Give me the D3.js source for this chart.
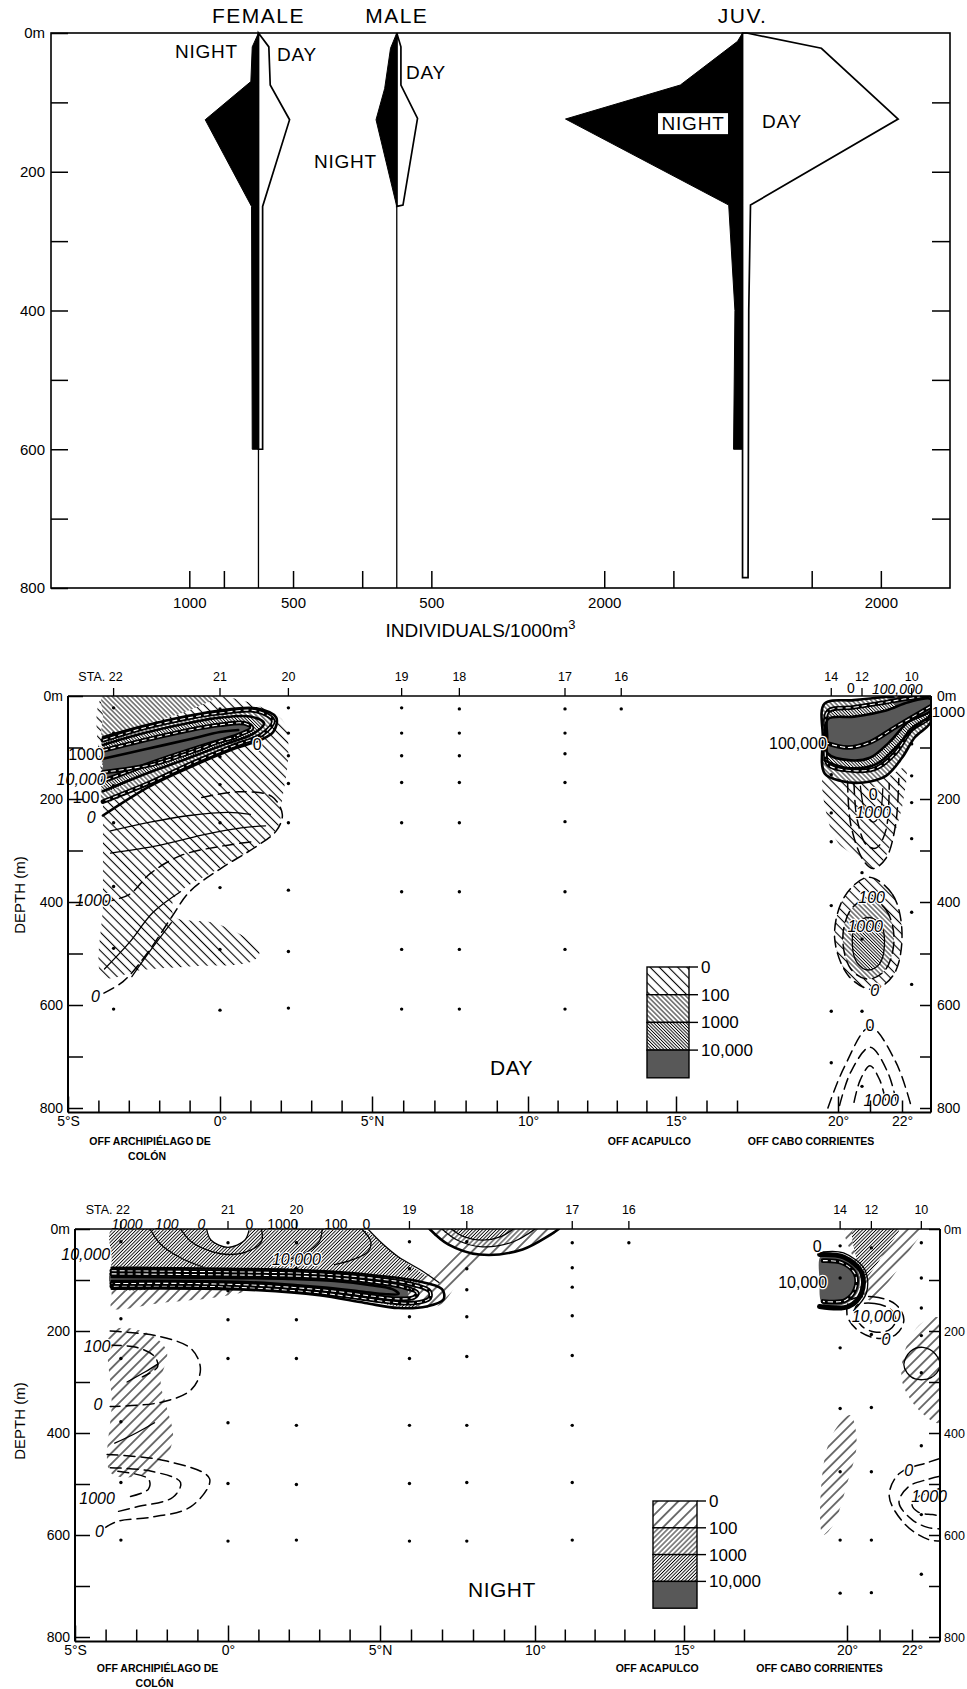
<!DOCTYPE html>
<html><head><meta charset="utf-8">
<script src="https://cdn.jsdelivr.net/npm/d3@7"></script>
<style>
body{margin:0;background:#fff}
svg{display:block}
text{font-family:'Liberation Sans',Arial,sans-serif;fill:#000}
</style>
</head><body>
<svg id="c" width="967" height="1689"></svg>
<script>
// ================= DATA =================
// --- top panel: vertical distribution (depth m, individuals/1000 m3) ---
const kiteGroups  = ["FEMALE", "MALE", "JUV."];
const kiteCenters = [3000, 5000, 10000];           // baseline of each kite on the individuals axis
const femaleNight = [[0,0],[20,90],[70,110],[125,770],[250,100],[600,90]];
const femaleDay   = [[0,0],[20,150],[75,170],[125,450],[250,60],[600,60]];
const maleNight   = [[0,0],[22,90],[80,175],[125,300],[250,0]];
const maleDay     = [[0,0],[20,60],[75,60],[123,300],[248,90],[250,0]];
const juvNight    = [[0,0],[12,72],[75,900],[124,2560],[248,200],[400,110],[600,130]];
const juvDay      = [[0,60],[22,1140],[124,2250],[248,115],[400,90],[785,80]];
const kiteNight = [femaleNight, maleNight, juvNight];
const kiteDay   = [femaleDay, maleDay, juvDay];
const kiteStemBottom = [800, 800, null];
const topDepthTicks = [0,100,200,300,400,500,600,700,800];
const topXTickValues = [2000,2500,3500,4500,5500,8000,9000,11000,12000];
const topXTickLabels = ["1000","","500","","500","2000","","","2000"];

// --- sections ---
const latBreaks = [-5,0,5,10,15,17,20,22,22.9];
const latTicks = [-5,-4,-3,-2,-1,0,1,2,3,4,5,6,7,8,9,10,11,12,13,14,15,16,17,20,21,22];
const latTickLabels = {"-5":"5°S","0":"0°","5":"5°N","10":"10°","15":"15°","20":"20°","22":"22°"};
const depthTicks = [0,100,200,300,400,500,600,700,800];
const stationNames = ["22","21","20","19","18","17","16","14","12","10"];
const stationLat   = [-3.5,0.0,2.25,5.95,7.8,11.25,13.15,19.8,20.75,22.3];
const dayStationDepths = [
  [23,72,174,246,370,490,608],[25,118,172,246,372,492,610],[23,72,116,170,246,377,496,606],
  [23,72,116,168,246,380,492,608],[25,72,116,168,246,380,492,608],[25,72,112,168,244,380,492,608],
  [25],[153,227,283,407,612,712],[343,472,612,758],[93,155,207,277,420,560]];
const nightStationDepths = [
  [25,176,254,378,497,610],[27,121,178,254,380,499,612],[27,78,119,178,254,385,501,610],
  [25,78,119,172,254,385,499,612],[25,78,119,172,250,385,497,612],[27,76,114,170,248,385,497,610],
  [27],[33,96,233,352,476,610,714],[37,207,350,476,610,713],[27,96,155,209,282,425,560,677]];
const legendLevels = ["0","100","1000","10,000"];
const placeNames = [{t:"OFF ARCHIPIÉLAGO DE", lat:-2.3, row:0},{t:"COLÓN", lat:-2.4, row:1},
                    {t:"OFF ACAPULCO", lat:14.1, row:0},{t:"OFF CABO CORRIENTES", lat:19.2, row:0}];

// day contours (lat, depth)
const dayTongue1 = [[-3.85,86],[-2.5,62],[-1,42],[0,33],[1.2,29],[1.75,48],[1.4,74],[0.4,98],[-0.9,130],[-2.3,168],[-3.85,205]];
const dayTongue2 = [[-3.85,95],[-2.5,72],[-1,52],[0,42],[1.0,40],[1.45,53],[1.1,73],[0.2,93],[-1.0,120],[-2.4,150],[-3.85,185]];
const dayTongue3 = [[-3.85,106],[-2.5,86],[-1,66],[0,56],[0.8,53],[1.05,62],[0.6,76],[-0.5,96],[-2,125],[-3.85,165]];
const dayBlob1 = [[19.6,15],[20.5,8],[21.5,2],[22.2,0],[22.9,0],[22.9,50],[22.4,80],[22.0,120],[21.5,155],[20.8,168],[20.1,165],[19.6,150],[19.55,80]];
const dayBlob2 = [[19.7,30],[20.5,22],[21.5,12],[22.2,5],[22.9,3],[22.9,38],[22.3,65],[21.8,110],[21.2,140],[20.5,145],[19.7,132],[19.65,80]];
const dayBlob3 = [[19.7,45],[20.5,40],[21.5,28],[22.2,12],[22.9,6],[22.9,28],[22.2,50],[21.6,90],[21.0,120],[20.4,125],[19.7,112],[19.65,80]];
const dayEll0 = [[20.95,352],[21.7,385],[22.0,460],[21.75,540],[21.1,570],[20.35,545],[19.9,470],[20.2,390]];
const dayEll1 = [[20.95,392],[21.5,415],[21.75,470],[21.5,530],[20.95,550],[20.4,530],[20.15,470],[20.4,415]];
const dayEll2 = [[20.95,430],[21.35,445],[21.45,485],[21.3,520],[20.95,532],[20.6,518],[20.45,485],[20.55,445]];
const dayRegions = [
  {lvl:0, pts:[[-3.85,0],[-2,0],[0,0],[1.2,18],[2.1,50],[2.25,110],[2.05,200],[1.9,255],[1.3,288],[-0.1,337],[-1.5,392],[-1.5,428],[-0.1,442],[1.3,492],[1.1,514],[-1.0,525],[-2.6,532],[-3.85,545],[-3.85,400],[-3.85,200]]},
  {lvl:1, pts:[[-3.85,0],[-2,0],[-0.1,0],[-0.9,25],[-2.3,52],[-3.85,82],[-3.85,40]]},
  {lvl:1, pts:dayTongue1.concat([[-3.85,150]])},
  {lvl:2, pts:dayTongue2.concat([[-3.85,140]])},
  {lvl:3, pts:dayTongue3.concat([[-3.85,135]])},
  {lvl:0, pts:[[19.6,150],[20.4,165],[21.5,158],[22.1,140],[22.05,200],[21.8,260],[21.4,320],[21.0,338],[20.5,310],[20.0,285],[19.7,240]]},
  {lvl:1, pts:dayBlob1},{lvl:2, pts:dayBlob2},{lvl:3, pts:dayBlob3},
  {lvl:3, pts:[[21.6,4],[22.2,2],[22.9,1],[22.9,22],[22.2,30],[21.8,18]]},
  {lvl:0, pts:dayEll0},{lvl:1, pts:dayEll1},{lvl:2, pts:dayEll2}
];
const dayLines = [
  {k:'thick', pts:[[-3.85,80],[-2.5,58],[-1,38],[0,28],[1.2,24],[1.85,42],[1.75,70],[1.3,86],[0.4,104],[-0.9,136],[-2.3,175],[-3.85,232]]},
  {k:'band', pts:dayTongue1},{k:'thick', pts:dayTongue2},{k:'band', pts:dayTongue3},
  {k:'thick', pts:[[-3.85,122],[-2.5,104],[-1,84],[0,70],[0.6,66]]},
  {k:'band', pts:[[-3.85,148],[-2.3,134],[-1,110],[0,88],[0.5,80]]},
  {k:'dash', pts:[[-0.6,197],[0.6,186],[1.7,195],[2.05,230],[1.85,262],[1.2,292],[0,336],[-1.0,380],[-1.6,430],[-2.4,500],[-3.2,555],[-4.0,582]]},
  {k:'thin', pts:[[-3.6,262],[-2.3,245],[-1.0,232],[0.3,226],[1.0,230]]},
  {k:'thin', pts:[[-3.6,305],[-2.0,290],[-0.6,270],[0.7,256],[1.5,252]]},
  {k:'dash', pts:[[-3.85,400],[-3.0,386],[-2.3,345],[-1.3,310],[0,292],[1.2,282]]},
  {k:'thin', pts:[[-3.8,530],[-3.0,480],[-2.2,420],[-1.3,380]]},
  {k:'thin', pts:[[-2.9,545],[-2.3,495],[-1.6,440]]},
  {k:'thick', pts:dayBlob1, c:true},{k:'band', pts:dayBlob2, c:true},{k:'thick', pts:dayBlob3, c:true},
  {k:'thick', pts:[[19.6,125],[20.3,140],[21.2,132],[21.8,100],[22.4,60],[22.9,40]]},
  {k:'band', pts:[[19.6,90],[20.3,100],[21.0,90],[21.8,60],[22.9,20]]},
  {k:'dash', pts:[[20.3,165],[20.4,250],[20.8,320],[21.1,335],[21.5,315],[21.8,250],[21.9,160]]},
  {k:'dash', pts:[[20.5,170],[20.6,240],[20.9,290],[21.2,295],[21.5,260],[21.6,170]]},
  {k:'thin', pts:[[20.7,175],[20.85,225],[21.1,245],[21.3,230],[21.4,180]]},
  {k:'dash', pts:dayEll0, c:true},{k:'dash', pts:dayEll1, c:true},{k:'thin', pts:dayEll2, c:true},
  {k:'dash', pts:[[19.7,800],[20.2,720],[21.0,643],[21.8,710],[22.3,800]]},
  {k:'dash', pts:[[20.05,795],[20.4,730],[21.0,682],[21.55,730],[21.85,795]]},
  {k:'dash', pts:[[20.5,789],[20.7,745],[21.0,718],[21.3,745],[21.5,789]]}
];
const dayLabels = [
  {t:"1000",lat:-4.41,d:124},{t:"10,000",lat:-4.57,d:172,i:1},{t:"100",lat:-4.41,d:207},{t:"0",lat:-4.24,d:246,i:1},
  {t:"1000",lat:-4.18,d:407,i:1},{t:"0",lat:-4.1,d:595,i:1},{t:"0",lat:1.22,d:105},
  {t:"0",lat:20.4,d:-5,s:14},{t:"100,000",lat:21.85,d:-4,i:1,s:14},{t:"1000",lat:22.92,d:41,a:'start',s:15},
  {t:"100,000",lat:19.67,d:103,a:'end'},{t:"0",lat:21.1,d:201},{t:"1000",lat:21.1,d:236,i:1},
  {t:"100",lat:21.05,d:401,i:1},{t:"1000",lat:20.85,d:459,i:1},{t:"0",lat:21.15,d:583,i:1},
  {t:"0",lat:21.0,d:651},{t:"1000",lat:21.35,d:796,i:1}
];

// night contours
const nightT0 = [[-3.8,76],[0,78],[2,80],[3.5,84],[5,92],[6.2,102],[7.0,118],[7.05,138],[6.5,152],[5.6,155],[4.5,145],[3,130],[1,120],[-1,117],[-3.8,117]];
const nightT1 = [[-3.8,82],[0,84],[2,86],[3.5,90],[5,98],[6,108],[6.6,122],[6.6,136],[6.1,145],[5.3,143],[4.3,135],[3,125],[1,116],[-1,112],[-3.8,112]];
const nightT2 = [[-3.8,88],[0,90],[2,92],[3.5,96],[4.8,104],[5.7,113],[6.2,125],[6.1,134],[5.6,137],[4.8,132],[3.5,122],[1.5,112],[-1,107],[-3.8,107]];
const nightT3 = [[-3.8,94],[0,96],[2,98],[3.5,102],[4.7,110],[5.4,118],[5.6,127],[5.2,128],[4.3,122],[3,114],[1,105],[-1,102],[-3.8,102]];
const nightHole = [[-0.7,0],[-0.55,22],[0,36],[0.55,22],[0.7,0]];
const nightS0 = [[6.6,0],[7.2,30],[8.2,50],[9.6,40],[10.8,0]];
const nightS1 = [[7.0,0],[7.5,22],[8.3,35],[9.3,25],[10.0,0]];
const nightS2 = [[7.3,0],[7.7,15],[8.3,22],[8.9,15],[9.3,0]];
const nightEllA = [[20.1,140],[20.8,133],[21.5,148],[21.75,178],[21.5,207],[20.9,214],[20.3,197],[20.0,168]];
const nightEllB = [[20.3,150],[20.85,146],[21.35,158],[21.5,180],[21.3,198],[20.85,202],[20.45,190],[20.25,168]];
const nightBlob10 = [[21.75,265],[21.95,240],[22.35,232],[22.75,245],[22.9,270],[22.6,292],[22.1,294],[21.85,282]];
const nightRegions = [
  {lvl:0, pts:[[-3.8,105],[-1.5,112],[0.8,118],[-0.5,135],[-2.2,145],[-3.8,155],[-3.8,130]]},
  {lvl:2, pts:[[-3.8,0],[-2,0],[0,0],[2,0],[4.4,0],[5.0,25],[5.6,55],[6.2,80],[6.8,105],[7.0,125],[6.7,145],[5.8,153],[4.6,140],[3.0,125],[1.0,115],[-1,112],[-3.8,112],[-3.8,60]]},
  {lvl:3, pts:nightT1},
  {lvl:-1, pts:nightHole},
  {lvl:0, pts:nightS0.concat([[8.7,0]])},
  {lvl:0, pts:[[6.2,150],[5.9,125],[7.0,70],[7.7,30],[8.4,0],[9.3,0],[8.6,40],[7.7,90],[6.9,150]]},
  {lvl:1, pts:nightS1.concat([[8.5,0]])},
  {lvl:2, pts:nightS2.concat([[8.3,0]])},
  {lvl:0, pts:[[-3.8,200],[-2.6,205],[-2.0,240],[-2.2,300],[-2.0,350],[-1.8,410],[-2.3,470],[-3.8,480],[-3.8,340]]},
  {lvl:0, pts:[[19.95,0],[21,0],[22.3,0],[21.9,45],[21.2,110],[20.7,140],[20.35,110],[20.2,60]]},
  {lvl:2, pts:[[20.2,0],[21.0,0],[21.6,0],[21.2,40],[20.8,80],[20.5,100],[20.3,60]]},
  {lvl:3, pts:[[19.25,52],[19.9,58],[20.35,85],[20.35,120],[20.0,145],[19.3,148],[19.2,100]]},
  {lvl:0, pts:[[22.3,185],[22.9,175],[22.9,380],[22.3,360],[21.7,300],[21.8,235]]},
  {lvl:0, pts:[[19.3,600],[19.3,470],[19.6,400],[20.1,365],[20.3,420],[20.0,500],[19.6,580]]}
];
const nightLines = [
  {k:'thick', pts:nightT0},{k:'band', pts:nightT1},{k:'band', pts:nightT2},{k:'thick', pts:nightT3},
  {k:'thin', pts:nightHole},
  {k:'thin', pts:[[-2.55,0],[-2.2,30],[-1.6,55],[-0.8,75]]},
  {k:'thin', pts:[[-1.55,0],[-1.2,25],[-0.5,45],[0,50],[0.6,45],[1.1,25],[1.1,0]]},
  {k:'thin', pts:[[3.1,0],[3.0,25],[2.6,45],[2.0,60]]},
  {k:'thin', pts:[[4.4,0],[4.7,25],[4.6,45],[4.1,60],[3.5,70]]},
  {k:'thin', pts:[[4.6,0],[5.1,30],[5.6,55],[6.3,80],[6.9,105]]},
  {k:'thick', pts:nightS0},{k:'thin', pts:nightS1},{k:'thin', pts:nightS2},
  {k:'dash', pts:[[-3.85,200],[-2.3,210],[-1.2,235],[-0.9,275],[-1.2,315],[-2.2,340],[-3.85,348]]},
  {k:'dash', pts:[[-3.85,228],[-3.0,232],[-2.4,250],[-2.3,270],[-2.8,290]]},
  {k:'dash', pts:[[-3.95,442],[-2.0,455],[-0.6,490],[-1.2,544],[-2.5,565],[-3.6,573],[-4.0,585]]},
  {k:'dash', pts:[[-3.85,468],[-2.5,475],[-1.55,497],[-1.8,526],[-3.0,545],[-3.6,554]]},
  {k:'dash', pts:[[-3.6,475],[-2.6,490],[-2.6,510],[-3.3,526]]},
  {k:'thin', pts:[[-3.7,420],[-3.0,400],[-2.4,380]]},
  {k:'thin', pts:[[-3.3,300],[-2.7,280],[-2.3,265]]},
  {k:'thick', pts:[[19.2,50],[19.9,55],[20.45,85],[20.45,125],[20.05,152],[19.2,152]], w:5},
  {k:'band', pts:[[19.3,62],[19.85,66],[20.25,88],[20.25,118],[19.95,140],[19.3,142]]},
  {k:'thin', pts:[[19.3,45],[19.9,47],[20.55,80],[20.6,125],[20.2,160]]},
  {k:'dash', pts:nightEllA, c:true},{k:'dash', pts:nightEllB, c:true},
  {k:'thin', pts:nightBlob10, c:true},
  {k:'dash', pts:[[22.9,450],[22.5,458],[21.6,480],[21.3,524],[21.8,580],[22.5,608],[22.9,612]]},
  {k:'dash', pts:[[22.9,485],[22.5,491],[21.9,505],[21.6,536],[22.0,570],[22.5,585],[22.9,588]]},
  {k:'dash', pts:[[22.9,508],[22.65,515],[22.2,525],[22.0,540],[22.2,555],[22.65,560],[22.9,562]]}
];
const nightLabels = [
  {t:"1000",lat:-3.3,d:0,i:1,s:14},{t:"100",lat:-2.0,d:0,i:1,s:14},{t:"0",lat:-0.87,d:0,i:1,s:14},{t:"0",lat:0.7,d:0,s:14},
  {t:"1000",lat:1.8,d:0,s:14},{t:"100",lat:3.55,d:0,s:14},{t:"0",lat:4.55,d:0,s:14},
  {t:"10,000",lat:-3.85,d:61,a:'end',i:1},{t:"10,000",lat:2.25,d:70,i:1},
  {t:"100",lat:-4.28,d:241,i:1},{t:"0",lat:-4.25,d:354,i:1},{t:"1000",lat:-4.28,d:540,i:1},{t:"0",lat:-4.2,d:603,i:1},
  {t:"0",lat:19.13,d:45},{t:"10,000",lat:19.42,d:115,a:'end'},{t:"10,000",lat:20.9,d:182,i:1},
  {t:"0",lat:21.2,d:227,i:1},{t:"0",lat:21.9,d:485,i:1},{t:"1000",lat:21.98,d:536,i:1,a:'start'}
];

// ================= DRAW =================
const svg = d3.select('#c');
const defs = svg.append('defs');

// ---------- TOP PANEL ----------
const xTop = d3.scaleLinear().domain([0,13000]).range([51,950]);
const yTop = d3.scaleLinear().domain([0,800]).range([33,588]);
const gTop = svg.append('g');
const lineTop = d3.line().x(p=>xTop(p[0])).y(p=>yTop(p[1]));

kiteCenters.forEach((c,i)=>{
  const day = kiteDay[i], night = kiteNight[i];
  const dLast = day[day.length-1][0], nLast = night[night.length-1][0];
  const dayPts = [[c,0]].concat(day.map(p=>[c+p[1],p[0]]),[[c,dLast]]);
  const nightPts = [[c,0]].concat(night.map(p=>[c-p[1],p[0]]),[[c,nLast]]);
  gTop.append('path').attr('d',lineTop(dayPts)+'Z').attr('fill','#fff').attr('stroke','#000').attr('stroke-width',1.7).attr('stroke-linejoin','miter');
  gTop.append('path').attr('d',lineTop(nightPts)+'Z').attr('fill','#000').attr('stroke','#000').attr('stroke-width',1);
  if (kiteStemBottom[i] !== null) {
    gTop.append('line').attr('x1',xTop(c)).attr('x2',xTop(c)).attr('y1',yTop(0)).attr('y2',yTop(kiteStemBottom[i])).attr('stroke','#000').attr('stroke-width',1.3);
  }
  gTop.append('text').attr('x',xTop(c)).attr('y',23).attr('text-anchor','middle').style('font-size','21px').style('letter-spacing','1.5px').text(kiteGroups[i]);
});

// night/day annotations (placed in data units)
const kiteNotes = [
  {t:"NIGHT",v:2704,d:36,a:'end'},{t:"DAY",v:3268,d:40,a:'start'},
  {t:"DAY",v:5134,d:66,a:'start'},{t:"NIGHT",v:4714,d:195,a:'end'},
  {t:"NIGHT",v:9284,d:140,a:'middle',box:1},{t:"DAY",v:10281,d:137,a:'start'}];
kiteNotes.forEach(n=>{
  if (n.box) gTop.append('rect').attr('x',xTop(n.v)-35).attr('y',yTop(n.d)-17).attr('width',70).attr('height',21).attr('fill','#fff');
  gTop.append('text').attr('x',xTop(n.v)).attr('y',yTop(n.d)).attr('text-anchor',n.a).style('font-size','19px').style('letter-spacing','0.8px').text(n.t);
});

// frame & axes
gTop.append('rect').attr('x',xTop.range()[0]).attr('y',yTop.range()[0]).attr('width',xTop.range()[1]-xTop.range()[0]).attr('height',yTop.range()[1]-yTop.range()[0]).attr('fill','none').attr('stroke','#000').attr('stroke-width',1.6);
const styleAxis = (g,fs) => {
  g.select('.domain').remove();
  g.selectAll('line').attr('stroke','#000').attr('stroke-width',1.5);
  g.selectAll('text').style('font-size',fs).style('font-family','Liberation Sans, Arial, sans-serif').attr('fill','#000');
  g.selectAll('text').filter(function(){ return this.textContent === ''; }).remove();
};
gTop.append('g').attr('transform',`translate(0,${yTop(800)})`)
  .call(d3.axisBottom(xTop).tickValues(topXTickValues).tickSize(-17).tickPadding(9).tickFormat((d,i)=>topXTickLabels[i]))
  .call(g=>styleAxis(g,'15px'));
gTop.append('g').attr('transform',`translate(${xTop.range()[0]},0)`)
  .call(d3.axisLeft(yTop).tickValues(topDepthTicks).tickSize(-17).tickPadding(6).tickFormat(d=>d===0?'0m':(d%200===0?d:'')))
  .call(g=>styleAxis(g,'15px'));
gTop.append('g').attr('transform',`translate(${xTop.range()[1]},0)`)
  .call(d3.axisRight(yTop).tickValues(topDepthTicks.slice(1,-1)).tickSize(-18).tickFormat(''))
  .call(g=>styleAxis(g,'15px'));
const xt = gTop.append('text').attr('x',(375+598)/2-6).attr('y',637).attr('text-anchor','middle').style('font-size','19px');
xt.append('tspan').text('INDIVIDUALS/1000m');
xt.append('tspan').attr('dy',-8).style('font-size','13px').text('3');

// ---------- SECTIONS ----------
function makePattern(id, sp, sw, angle, bg){
  const p = defs.append('pattern').attr('id',id).attr('patternUnits','userSpaceOnUse')
    .attr('width',sp).attr('height',sp).attr('patternTransform',`rotate(${angle})`);
  p.append('rect').attr('width',sp).attr('height',sp).attr('fill',bg);
  p.append('line').attr('x1',sp/2).attr('x2',sp/2).attr('y1',0).attr('y2',sp).attr('stroke','#000').attr('stroke-width',sw);
}

function section(o){
  const x = d3.scaleLinear().domain(latBreaks).range(o.xr);
  const y = d3.scaleLinear().domain([0,800]).range(o.yr);
  const L = o.xr[0], R = o.xr[o.xr.length-1], T = y(0), B = y(800)+4.5;
  o.hatch.forEach((h,i)=>makePattern(o.id+'P'+i, h.sp, h.sw, o.angle, h.bg));
  defs.append('clipPath').attr('id',o.id+'clip').append('rect').attr('x',L).attr('y',T).attr('width',R-L).attr('height',B-T);
  const g = svg.append('g');
  const gc = g.append('g').attr('clip-path',`url(#${o.id}clip)`);
  const open = d3.line().x(p=>x(p[0])).y(p=>y(p[1])).curve(d3.curveCatmullRom.alpha(0.5));
  const closed = d3.line().x(p=>x(p[0])).y(p=>y(p[1])).curve(d3.curveCatmullRomClosed.alpha(0.5));
  o.regions.forEach(r=>{
    gc.append('path').attr('d',closed(r.pts)).attr('fill', r.lvl<0 ? '#fff' : `url(#${o.id}P${r.lvl})`);
  });
  o.lines.forEach(l=>{
    const d = (l.c?closed:open)(l.pts);
    const p = gc.append('path').attr('d',d).attr('fill','none').attr('stroke','#000').attr('stroke-linecap','round');
    if (l.k==='thick') p.attr('stroke-width',l.w||2.6);
    else if (l.k==='thin') p.attr('stroke-width',1.3);
    else if (l.k==='dash') p.attr('stroke-width',1.5).attr('stroke-dasharray','11,6');
    else if (l.k==='band') {
      p.attr('stroke-width',4.6);
      gc.append('path').attr('d',d).attr('fill','none').attr('stroke','#fff').attr('stroke-width',1.1).attr('stroke-dasharray','5,3');
    }
  });
  // sample dots
  stationLat.forEach((lat,i)=>{
    o.depths[i].forEach(dep=>{
      g.append('circle').attr('cx',x(lat)).attr('cy',y(dep)).attr('r',1.7).attr('fill','#000');
    });
  });
  // contour labels
  o.labels.forEach(lb=>{
    g.append('text').attr('x',x(lb.lat)).attr('y',y(lb.d)).attr('text-anchor',lb.a||'middle')
      .style('font-size',(lb.s||16)+'px').style('font-style',lb.i?'italic':'normal')
      .attr('stroke','#fff').attr('stroke-width',2.5).attr('paint-order','stroke').attr('stroke-linejoin','round')
      .text(lb.t);
  });
  // frame
  g.append('line').attr('x1',L).attr('x2',R).attr('y1',T).attr('y2',T).attr('stroke','#000').attr('stroke-width',1.7);
  g.append('line').attr('x1',L).attr('x2',R).attr('y1',B).attr('y2',B).attr('stroke','#000').attr('stroke-width',2);
  g.append('line').attr('x1',L).attr('x2',L).attr('y1',T).attr('y2',B).attr('stroke','#000').attr('stroke-width',2);
  g.append('line').attr('x1',R).attr('x2',R).attr('y1',T).attr('y2',B).attr('stroke','#000').attr('stroke-width',2);
  // depth axes
  g.append('g').attr('transform',`translate(${L},0)`)
    .call(d3.axisLeft(y).tickValues(depthTicks).tickSize(-15).tickPadding(5).tickFormat(d=>d===0?'0m':(d%200===0?d:'')))
    .call(a=>styleAxis(a,'14px'));
  g.append('g').attr('transform',`translate(${R},0)`)
    .call(d3.axisRight(y).tickValues(depthTicks).tickSize(-11).tickPadding(o.rightPad).tickFormat(d=>d===0?'0m':(d%200===0?d:'')))
    .call(a=>styleAxis(a,o.rightFs));
  // latitude axis
  g.append('g').attr('transform',`translate(0,${B})`)
    .call(d3.axisBottom(x).tickValues(latTicks).tickSize(-12).tickPadding(6).tickFormat(d=>latTickLabels[String(d)]||''))
    .call(a=>{ styleAxis(a,'14px'); a.selectAll('.tick line').attr('y2',d=>d%5===0?-16:-12); a.selectAll('.tick text').attr('y',4); });
  placeNames.forEach(pn=>{
    g.append('text').attr('x',x(pn.lat)).attr('y',B+o.placeDy+pn.row*15).attr('text-anchor','middle')
      .style('font-size','10.5px').style('font-weight','bold').text(pn.t);
  });
  // stations
  stationLat.forEach((lat,i)=>{
    g.append('line').attr('x1',x(lat)).attr('x2',x(lat)).attr('y1',T-8).attr('y2',T).attr('stroke','#000').attr('stroke-width',1.3);
    g.append('text').attr('x',i===0?x(lat)+9:x(lat)).attr('y',T-15).attr('text-anchor',i===0?'end':'middle')
      .style('font-size','12.5px').text(i===0?'STA. '+stationNames[i]:stationNames[i]);
  });
  // y title
  g.append('text').attr('transform',`translate(25,${o.titleY}) rotate(-90)`).attr('text-anchor','middle')
    .style('font-size','15px').text('DEPTH (m)');
  // legend
  const lg = o.legend;
  legendLevels.forEach((lv,i)=>{
    g.append('rect').attr('x',lg.x).attr('y',lg.y+i*lg.h).attr('width',lg.w).attr('height',lg.h)
      .attr('fill',`url(#${o.id}P${i})`).attr('stroke','#000').attr('stroke-width',1.4);
    g.append('line').attr('x1',lg.x+lg.w).attr('x2',lg.x+lg.w+9).attr('y1',lg.y+i*lg.h).attr('y2',lg.y+i*lg.h).attr('stroke','#000').attr('stroke-width',1.4);
    g.append('text').attr('x',lg.x+lg.w+12).attr('y',lg.y+i*lg.h+6).style('font-size','17px').text(lv);
  });
  g.append('text').attr('x',o.name.x).attr('y',o.name.y).style('font-size','21px').style('letter-spacing','0.5px').text(o.name.t);
}

const hatchDay = [{sp:6.5,sw:1.1,bg:'#fff'},{sp:3.4,sw:0.9,bg:'#fff'},{sp:2.3,sw:0.9,bg:'#fff'},{sp:2.0,sw:0.9,bg:'#a0a0a0'}];
const hatchNight = [{sp:7.5,sw:1.1,bg:'#fff'},{sp:3.6,sw:0.9,bg:'#fff'},{sp:2.4,sw:0.9,bg:'#fff'},{sp:2.0,sw:0.9,bg:'#a0a0a0'}];

section({id:'day', xr:[68,220,372,528,676,737,838,902,931], yr:[696,1108], angle:-45, hatch:hatchDay,
  regions:dayRegions, lines:dayLines, labels:dayLabels, depths:dayStationDepths, rightPad:6, rightFs:'14px',
  legend:{x:647,y:967,w:42,h:27.7}, name:{t:'DAY',x:490,y:1075}, titleY:895, placeDy:32});
section({id:'night', xr:[75,228,380,535,684,744,847,912,940], yr:[1229,1637], angle:45, hatch:hatchNight,
  regions:nightRegions, lines:nightLines, labels:nightLabels, depths:nightStationDepths, rightPad:4, rightFs:'12.5px',
  legend:{x:653,y:1501,w:44,h:26.8}, name:{t:'NIGHT',x:468,y:1597}, titleY:1421, placeDy:30});
</script>
</body></html>
